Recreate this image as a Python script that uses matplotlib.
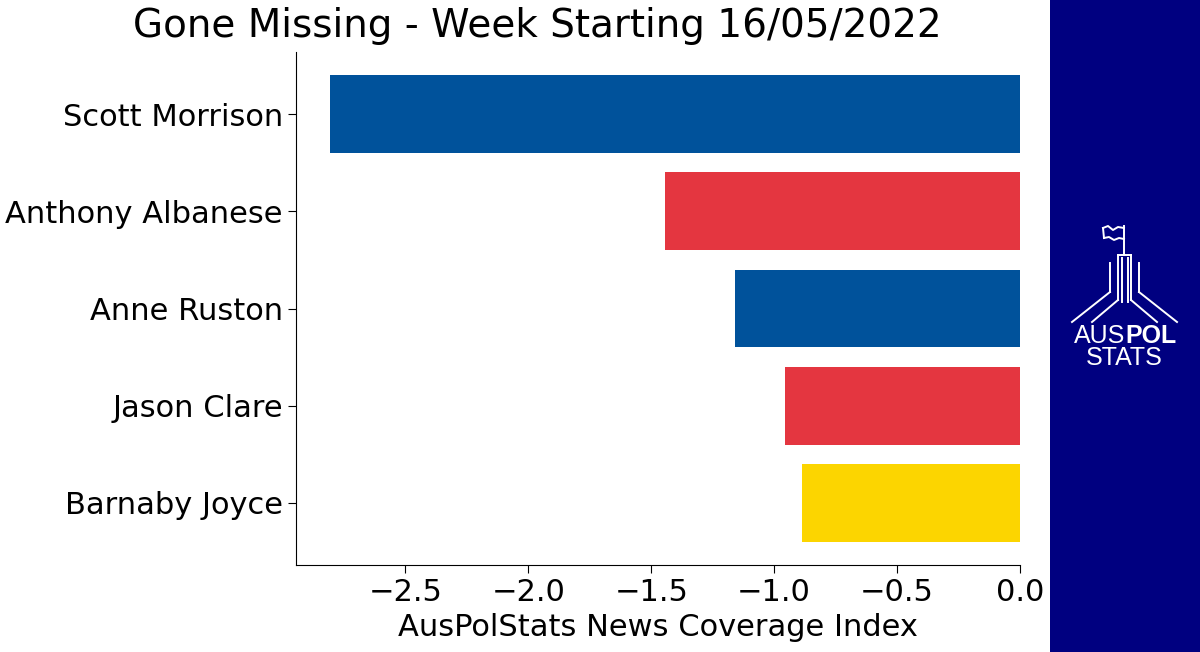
import matplotlib
matplotlib.use('Agg')
import matplotlib.pyplot as plt
from matplotlib.lines import Line2D
from matplotlib.patches import Rectangle

# data
names = ['Scott Morrison', 'Anthony Albanese', 'Anne Ruston', 'Jason Clare', 'Barnaby Joyce']
index_values = [-2.805, -1.443, -1.159, -0.955, -0.886]
party_colours = ['#00529B', '#E43640', '#00529B', '#E43640', '#FCD500']

W, H = 1200, 652
fig = plt.figure(figsize=(12, 6.52), dpi=100)
ax = fig.add_axes([296 / W, 1 - 565 / H, (1020 - 296) / W, (565 - 52) / H])

ax.barh(range(len(names)), index_values, color=party_colours, height=0.8)
ax.set_yticks(range(len(names)))
ax.set_yticklabels(names)
ax.invert_yaxis()
ax.set_xticks([-2.5, -2.0, -1.5, -1.0, -0.5, 0.0])
ax.tick_params(labelsize=22, length=6)
ax.set_xlabel('AusPolStats News Coverage Index', fontsize=22, labelpad=4)
ax.spines['top'].set_visible(False)
ax.spines['right'].set_visible(False)
fig.text(537 / W, 1 - 26 / H, 'Gone Missing - Week Starting 16/05/2022',
         fontsize=28, ha='center', va='center')

# side banner with logo
fig.patches.append(Rectangle((1050 / W, 0), 150 / W, 1, transform=fig.transFigure,
                             facecolor='#000080', edgecolor='none', zorder=0))


def px_line(xs, ys):
    fig.lines.append(Line2D([x / W for x in xs], [1 - y / H for y in ys],
                            transform=fig.transFigure, color='white', lw=1.4))


# flag and pole
px_line([1124, 1124], [226, 255])
px_line([1103, 1108, 1113, 1118, 1124], [228, 226, 230, 227, 228])
px_line([1103, 1104], [228, 238])
px_line([1104, 1109, 1114, 1119, 1124], [238, 237, 240, 238, 239])
# vertical masts
for x0 in [1118, 1131]:
    px_line([x0, x0], [255, 300])
for x0 in [1122, 1128]:
    px_line([x0, x0], [258, 302])
px_line([1118, 1131], [255, 255])
for x0 in [1110, 1139]:
    px_line([x0, x0], [263, 292])
# diagonals
px_line([1110, 1072], [292, 322])
px_line([1118, 1092], [300, 322])
px_line([1131, 1157], [300, 322])
px_line([1139, 1177], [292, 322])

fig.text(1125 / W, 1 - 336 / H, 'AUS', fontsize=18, color='white', ha='right',
         va='center', family='Liberation Sans')
fig.text(1125 / W, 1 - 336 / H, 'POL', fontsize=18, color='white', ha='left',
         va='center', family='Liberation Sans', weight='bold')
fig.text(1124 / W, 1 - 358 / H, 'STATS', fontsize=18, color='white', ha='center',
         va='center', family='Liberation Sans')

fig.savefig('out.png', dpi=100)
